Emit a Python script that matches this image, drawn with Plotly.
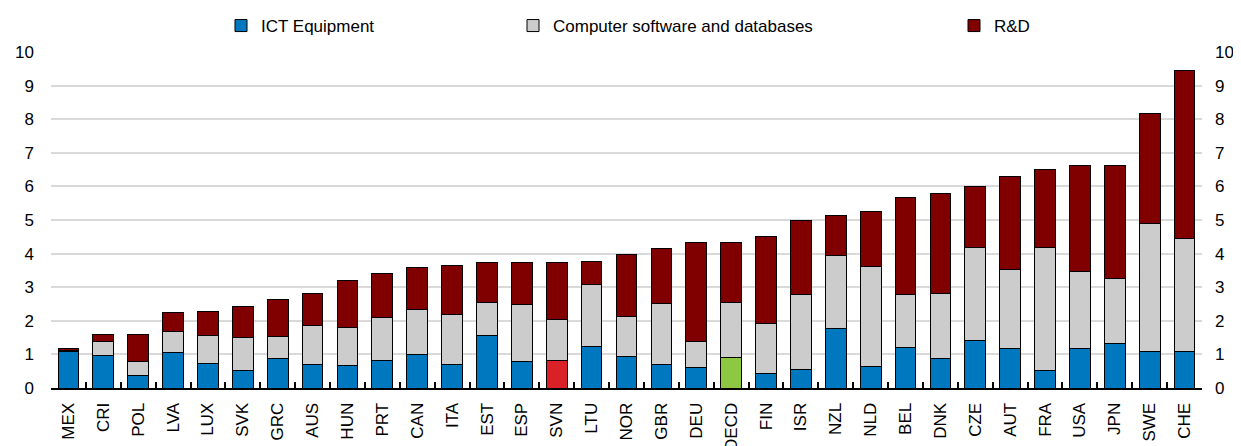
import plotly.graph_objects as go

# Intangible investment by asset type, % of value added
countries = [
    "MEX", "CRI", "POL", "LVA", "LUX", "SVK", "GRC", "AUS", "HUN", "PRT", "CAN",
    "ITA", "EST", "ESP", "SVN", "LTU", "NOR", "GBR", "DEU", "OECD", "FIN", "ISR",
    "NZL", "NLD", "BEL", "DNK", "CZE", "AUT", "FRA", "USA", "JPN", "SWE", "CHE",
]
ict_equipment = [
    1.10, 0.97, 0.38, 1.05, 0.73, 0.52, 0.89, 0.70, 0.66, 0.83, 0.99,
    0.70, 1.56, 0.78, 0.82, 1.25, 0.93, 0.69, 0.62, 0.92, 0.42, 0.55,
    1.76, 0.63, 1.20, 0.87, 1.41, 1.17, 0.52, 1.17, 1.31, 1.09, 1.09,
]
software = [
    0.02, 0.40, 0.42, 0.63, 0.83, 0.99, 0.65, 1.15, 1.15, 1.26, 1.34,
    1.49, 0.97, 1.72, 1.22, 1.84, 1.20, 1.82, 0.76, 1.63, 1.50, 2.23,
    2.18, 2.98, 1.57, 1.95, 2.78, 2.36, 3.67, 2.29, 1.94, 3.80, 3.37,
]
rnd = [
    0.05, 0.22, 0.79, 0.57, 0.73, 0.92, 1.09, 0.97, 1.40, 1.32, 1.26,
    1.46, 1.21, 1.25, 1.71, 0.68, 1.84, 1.64, 2.94, 1.78, 2.58, 2.20,
    1.19, 1.63, 2.91, 2.96, 1.80, 2.77, 2.31, 3.17, 3.38, 3.27, 4.99,
]
y_ticks = list(range(0, 11))

BLUE = "#0078bf"
GREY = "#cccccc"
DARK_RED = "#800000"
HIGHLIGHT = {"SVN": "#da2128", "OECD": "#8cc841"}
FONT = "Liberation Sans, Arial, sans-serif"
FONT_SIZE = 17

# page body has an 8px margin, so the figure is drawn 8px smaller
W, H = 1233, 438

ict_colors = [HIGHLIGHT.get(c, BLUE) for c in countries]
totals = [a + b + c for a, b, c in zip(ict_equipment, software, rnd)]
outline = dict(color="#000000", width=1)

fig = go.Figure()
fig.add_trace(go.Bar(x=countries, y=ict_equipment, name="ICT Equipment",
                     marker=dict(color=ict_colors, line=outline), legend="legend"))
fig.add_trace(go.Bar(x=countries, y=software, name="Computer software and databases",
                     marker=dict(color=GREY, line=outline), legend="legend2"))
fig.add_trace(go.Bar(x=countries, y=rnd, name="R&D",
                     marker=dict(color=DARK_RED, line=outline), legend="legend3"))
# invisible helper so the right-hand axis gets drawn
fig.add_trace(go.Scatter(x=countries, y=totals, yaxis="y2", mode="markers",
                         marker=dict(opacity=0), showlegend=False, hoverinfo="skip"))

legend_common = dict(orientation="h", xref="container", yref="container",
                     yanchor="middle", y=1 - 18 / H, bgcolor="rgba(0,0,0,0)",
                     font=dict(family=FONT, size=FONT_SIZE, color="#000000"))

fig.update_layout(
    width=W,
    height=H,
    barmode="stack",
    bargap=0.406,
    plot_bgcolor="white",
    paper_bgcolor="white",
    font=dict(family=FONT, size=FONT_SIZE, color="#000000"),
    margin=dict(l=43, r=39, t=44, b=58),
    legend=dict(x=213 / W, **legend_common),
    legend2=dict(x=505 / W, **legend_common),
    legend3=dict(x=946 / W, **legend_common),
    xaxis=dict(
        type="category",
        range=[-0.5, len(countries) - 0.5],
        tickangle=-90,
        tickson="boundaries",
        ticks="inside",
        ticklen=6,
        tickwidth=1.5,
        tickcolor="#000000",
        showline=True,
        linecolor="#000000",
        linewidth=2,
        showgrid=False,
        ticklabelstandoff=6,
        tickfont=dict(family=FONT, size=FONT_SIZE),
        automargin=False,
    ),
    yaxis=dict(
        range=[0, 10],
        tickvals=y_ticks,
        showgrid=True,
        gridcolor="#d9d9d9",
        gridwidth=1.5,
        zeroline=False,
        ticks="",
        ticklabelstandoff=16,
        tickfont=dict(family=FONT, size=FONT_SIZE),
        automargin=False,
    ),
    yaxis2=dict(
        range=[0, 10],
        tickvals=y_ticks,
        overlaying="y",
        side="right",
        showgrid=False,
        zeroline=False,
        ticks="",
        ticklabelstandoff=12,
        tickfont=dict(family=FONT, size=FONT_SIZE),
        automargin=False,
    ),
)

fig.write_html("out.html")
